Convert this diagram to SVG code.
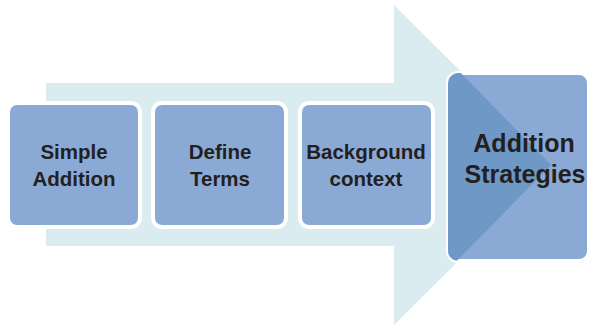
<svg xmlns="http://www.w3.org/2000/svg" width="590" height="325" viewBox="0 0 590 325">
  <style>
    .box { fill: #8AAAD5; stroke: #FFFFFF; stroke-width: 4; }
    .lbl { font-family: "Liberation Sans", Arial, sans-serif; font-weight: bold; fill: #231F20; text-anchor: middle; }
    .small { font-size: 20.5px; }
    .big { font-size: 25px; }
  </style>
  <defs>
    <clipPath id="c4">
      <rect x="448" y="73" width="141" height="188" rx="10"/>
    </clipPath>
  </defs>
  <rect width="590" height="325" fill="#FFFFFF"/>
  <g id="background-arrow">
    <polygon points="46,83 394,83 394,5 555,165 394,325 394,246 46,246" fill="#DAECF0"/>
  </g>
  <g id="node-simple-addition">
    <rect class="box" x="8" y="103" width="132" height="124" rx="9"/>
    <text class="lbl small" x="74" y="159">Simple</text>
    <text class="lbl small" x="74" y="186">Addition</text>
  </g>
  <g id="node-define-terms">
    <rect class="box" x="153" y="103" width="133" height="124" rx="9"/>
    <text class="lbl small" x="220" y="159">Define</text>
    <text class="lbl small" x="220" y="186">Terms</text>
  </g>
  <g id="node-background-context">
    <rect class="box" x="300" y="103" width="133" height="124" rx="9"/>
    <text class="lbl small" x="366" y="159">Background</text>
    <text class="lbl small" x="366" y="186">context</text>
  </g>
  <g id="node-addition-strategies">
    <rect class="box" x="448" y="73" width="141" height="188" rx="10"/>
    <polygon clip-path="url(#c4)" points="394,5 551,165 394,325" fill="#6E98C6"/>
    <text class="lbl big" x="524" y="152">Addition</text>
    <text class="lbl big" x="525" y="183">Strategies</text>
  </g>
</svg>
